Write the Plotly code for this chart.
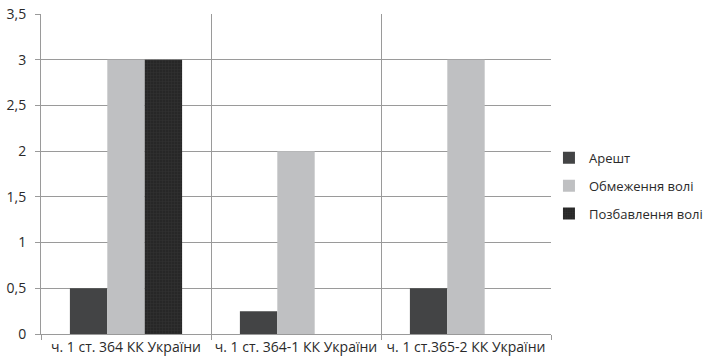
import plotly.graph_objects as go

categories = ["ч. 1 ст. 364 КК України", "ч. 1 ст. 364-1 КК України", "ч. 1 ст.365-2 КК України"]
series_names = ["Арешт", "Обмеження волі", "Позбавлення волі"]
arest = [0.5, 0.25, 0.5]
obmezhennia = [3, 2, 3]
pozbavlennia = [3, 0, 0]
y_ticks = [0, 0.5, 1, 1.5, 2, 2.5, 3, 3.5]
y_tick_labels = ["0", "0,5", "1", "1,5", "2", "2,5", "3", "3,5"]

colors = ["#434445", "#bfc0c2", "#262626"]
values = [arest, obmezhennia, pozbavlennia]

fig = go.Figure()
for i, (name, vals) in enumerate(zip(series_names, values)):
    marker = dict(color=colors[i], line=dict(width=0))
    if i == 2:
        marker["pattern"] = dict(shape=".", fgcolor="#3c3c3c", bgcolor="#242424", size=3, solidity=0.5)
    fig.add_trace(go.Bar(x=categories, y=vals, name=name, marker=marker, legendgroup=name))

grid = "#9a9a9a"
fig.update_layout(
    width=711, height=363,
    margin=dict(l=41, r=160, t=14, b=29, autoexpand=False),
    paper_bgcolor="white", plot_bgcolor="white",
    barmode="group", bargap=0.34, bargroupgap=0,
    font=dict(family="Open Sans, DejaVu Sans, sans-serif", size=14, color="#2a2a2a"),
    showlegend=True,
    legend=dict(x=0.996, y=0.463, xanchor="left", yanchor="middle",
                font=dict(size=13, color="#2a2a2a"), tracegroupgap=8,
                itemwidth=30, bgcolor="rgba(0,0,0,0)"),
)
fig.update_xaxes(
    type="category", tickson="boundaries", showgrid=True, gridcolor=grid, gridwidth=1,
    ticks="outside", ticklen=5, tickcolor=grid, showline=True, linecolor=grid,
    tickfont=dict(size=14), tickangle=0, zeroline=False, automargin=False,
)
fig.update_yaxes(
    range=[0, 3.5], tickvals=y_ticks, ticktext=y_tick_labels, showgrid=True,
    gridcolor=grid, gridwidth=1, ticks="outside", ticklen=5, tickcolor=grid,
    showline=True, linecolor=grid, zeroline=False, tickfont=dict(size=14),
    ticklabelstandoff=6, automargin=False,
)

fig.write_html("out.html", config={"displayModeBar": False},
               post_script="document.body.style.margin='0';")
